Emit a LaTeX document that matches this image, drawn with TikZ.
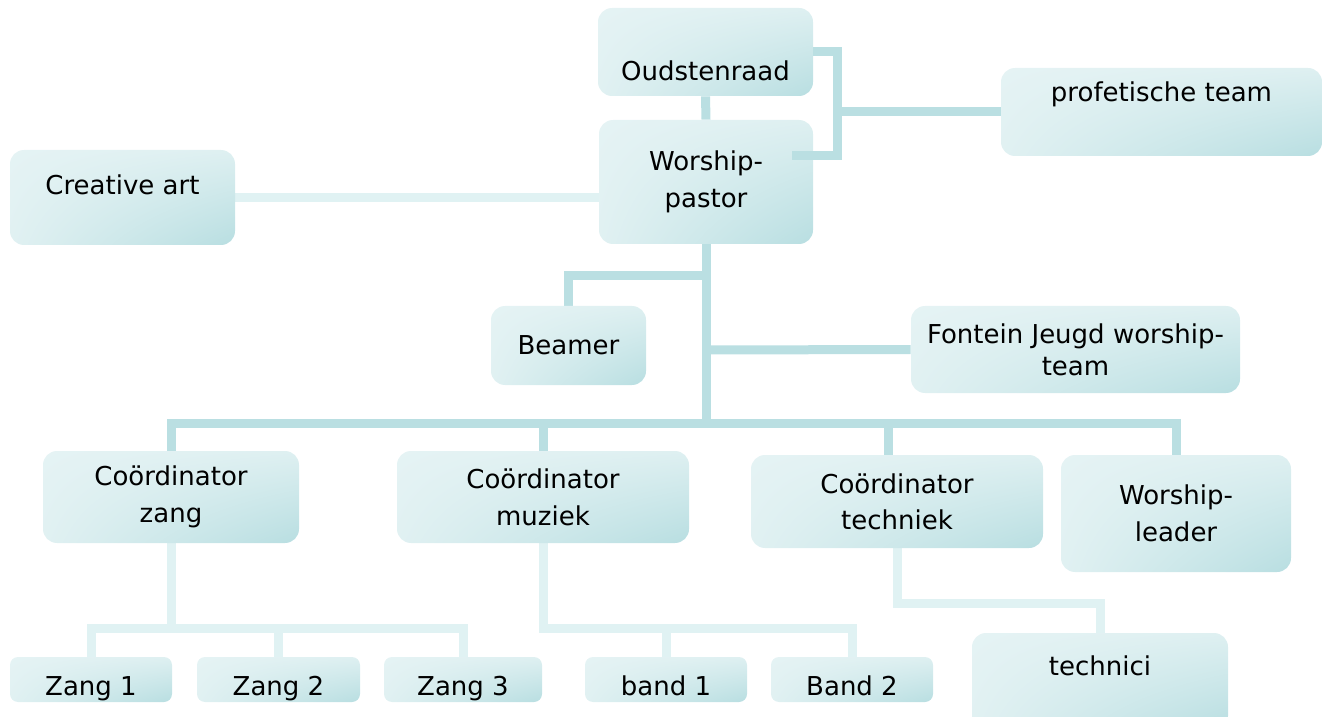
\documentclass[tikz,border=0pt]{standalone}
\usepackage{fontspec}
\setmainfont{DejaVu Sans}
\usetikzlibrary{backgrounds,shadings}

\definecolor{boxlight}{RGB}{229,243,244}
\definecolor{boxdark}{RGB}{184,222,225}
\definecolor{linedark}{RGB}{186,223,226}
\definecolor{linelight}{RGB}{224,242,243}

\tikzset{
  orgbox/.style={rectangle, rounded corners=7pt, inner xsep=2pt, inner ysep=0pt,
    upper left=boxlight, upper right=boxlight!85!boxdark,
    lower left=boxlight!90!boxdark, lower right=boxdark,
    align=center, font=\fontsize{13pt}{18.5pt}\selectfont},
  smallbox/.style={orgbox, rounded corners=4pt, minimum height=22.5pt, text height=18pt, text depth=2.5pt},
  link/.style={draw=linedark, line width=4.5pt},
  sublink/.style={draw=linelight, line width=4.5pt}
}

\begin{document}
\begin{tikzpicture}[x=0.5pt, y=-0.5pt]
  \useasboundingbox (0,0) rectangle (1330,717);

  % top
  \node (oud) [orgbox, minimum width=107.5pt, minimum height=44pt, text height=29pt, text depth=0pt] at (705.5,52) {Oudstenraad};
  \node (pastor) [orgbox, minimum width=107pt, minimum height=62pt] at (706,182) {Worship-\\pastor};
  \node (prof) [orgbox, minimum width=160.5pt, minimum height=44pt, text height=9pt, text depth=19pt] at (1161.5,112) {profetische team};
  \node (art) [orgbox, minimum width=112.5pt, minimum height=47.5pt, text height=9pt, text depth=12pt] at (122.5,197.5) {Creative art};

  % middle
  \node (beamer) [orgbox, minimum width=77.5pt, minimum height=39.5pt] at (568.5,345.5) {Beamer};
  \node (fontein) [orgbox, minimum width=164.5pt, minimum height=43.5pt, font=\fontsize{13pt}{16pt}\selectfont] at (1075.5,349.5) {Fontein Jeugd worship-\\team};

  % coordinators
  \node (czang) [orgbox, minimum width=128pt, minimum height=46pt] at (171,497) {Coördinator\\zang};
  \node (cmuziek) [orgbox, minimum width=146pt, minimum height=46pt] at (543,497) {Coördinator\\muziek};
  \node (ctech) [orgbox, minimum width=146pt, minimum height=46.5pt, font=\fontsize{13pt}{18pt}\selectfont] at (897,501.5) {Coördinator\\techniek};
  \node (wleader) [orgbox, minimum width=115pt, minimum height=58.5pt] at (1176,513.5) {Worship-\\leader};

  % bottom row
  \node (zang1) [smallbox, minimum width=81pt] at (91,679.5) {Zang 1};
  \node (zang2) [smallbox, minimum width=81.5pt] at (278.5,679.5) {Zang 2};
  \node (zang3) [smallbox, minimum width=79pt] at (463,679.5) {Zang 3};
  \node (band1) [smallbox, minimum width=81pt] at (666,679.5) {band 1};
  \node (band2) [smallbox, minimum width=81pt] at (852,679.5) {Band 2};
  \node (technici) [orgbox, minimum width=128pt, minimum height=48.5pt, text height=9pt, text depth=15.5pt] at (1100,681.5) {technici};

  % junctions
  \coordinate (jprof) at (837,112);
  \coordinate (jpastor) at (792,156);
  \coordinate (jbeamer) at (706,276);
  \coordinate (jfontein) at (706,350);
  \coordinate (jbus) at (706,423);
  \coordinate (jzang) at (171,628);
  \coordinate (jband) at (543,628);
  \coordinate (jtech) at (897,603);

  \begin{scope}[on background layer]
    \draw[link] (oud.south) -- (pastor.north);
    \draw[link] (jprof) -- (prof.west);
    \draw[link] (pastor.south) -- (jbus);
    \draw[link] (jbeamer) -| (beamer.north);
    \draw[link] (jfontein) -- (fontein.west);
    \draw[link] (jbus) -| (czang.north);
    \draw[link] (jbus) -| (cmuziek.north);
    \draw[link] (jbus) -| ([xshift=-4.5pt]ctech.north);
    \draw[link] (jbus) -| (wleader.north);
    \draw[sublink] (art.east) -- (art.east -| pastor.west);
    \draw[sublink] (czang.south) -- (jzang) -| (zang1.north);
    \draw[sublink] (jzang) -| (zang2.north);
    \draw[sublink] (jzang) -| (zang3.north);
    \draw[sublink] (cmuziek.south) -- (jband) -| (band1.north);
    \draw[sublink] (jband) -| (band2.north);
    \draw[sublink] (ctech.south) -- (jtech) -| (technici.north);
  \end{scope}
  \draw[link] (oud.east) -| (jprof) |- (jpastor);
\end{tikzpicture}
\end{document}
